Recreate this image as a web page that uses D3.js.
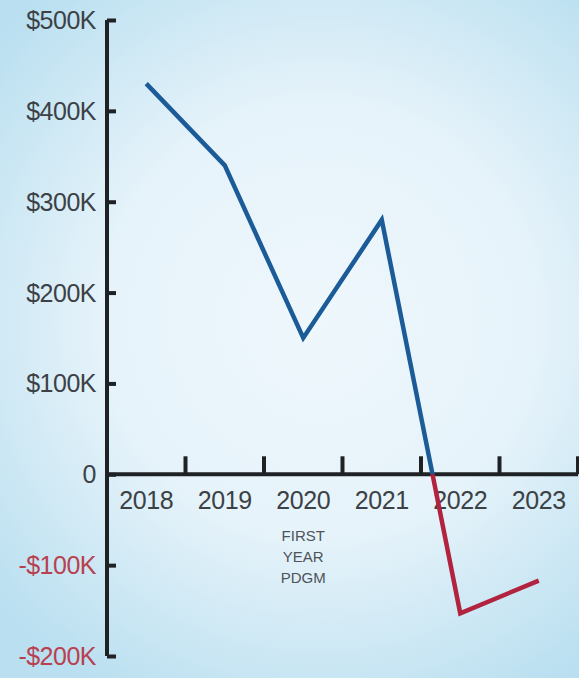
<!DOCTYPE html>
<html>
<head>
<meta charset="utf-8">
<script src="https://cdn.jsdelivr.net/npm/d3@7"></script>
<style>
  html, body { margin: 0; padding: 0; background: #e6f3fa; }
  svg { display: block; font-family: "Liberation Sans", Arial, sans-serif; }
</style>
</head>
<body>
<svg id="chart" width="579" height="678"></svg>
<script>
const years = ["2018", "2019", "2020", "2021", "2022", "2023"];
const values = [430, 340, 150, 280, -153, -117]; // thousands of dollars
const yTicks = [500, 400, 300, 200, 100, 0, -100, -200];
const yTickLabels = ["$500K", "$400K", "$300K", "$200K", "$100K", "0", "-$100K", "-$200K"];
const annotationYear = "2020";
const annotationLines = ["FIRST", "YEAR", "PDGM"];

const W = 579, H = 678;
const svg = d3.select("#chart");

// background
const defs = svg.append("defs");
const rg = defs.append("radialGradient").attr("id", "bg")
  .attr("gradientUnits", "userSpaceOnUse")
  .attr("cx", 320).attr("cy", 320).attr("r", 430);
rg.append("stop").attr("offset", 0).attr("stop-color", "#eef7fc");
rg.append("stop").attr("offset", 0.5).attr("stop-color", "#e6f3fa");
rg.append("stop").attr("offset", 1).attr("stop-color", "#b9dff0");
svg.append("rect").attr("width", W).attr("height", H).attr("fill", "url(#bg)");

const x = d3.scaleBand().domain(years).range([107, 578]).padding(0);
const y = d3.scaleLinear().domain([-200, 500]).range([656, 20]);
const y0 = y(0);

// clip paths for positive / negative segments
defs.append("clipPath").attr("id", "pos").append("rect")
  .attr("x", 0).attr("y", 0).attr("width", W).attr("height", y0);
defs.append("clipPath").attr("id", "neg").append("rect")
  .attr("x", 0).attr("y", y0).attr("width", W).attr("height", H - y0);

const axisColor = "#1f2225";

// Y axis
const yAxis = svg.append("g").attr("transform", "translate(107,0)")
  .call(d3.axisRight(y).tickValues(yTicks).tickSize(9).tickFormat(""));
yAxis.select(".domain").attr("stroke", axisColor).attr("stroke-width", 4).attr("d", `M0,${y(500)}V${y(-200)}`);
yAxis.selectAll(".tick line").attr("stroke", axisColor).attr("stroke-width", 4);

// Y labels
svg.append("g").selectAll("text").data(yTicks).join("text")
  .attr("x", 96).attr("y", d => y(d))
  .attr("dy", "0.36em")
  .attr("text-anchor", "end")
  .attr("font-size", 25)
  .attr("letter-spacing", "-0.5")
  .attr("fill", d => d < 0 ? "#b8404f" : "#3c4146")
  .text((d, i) => yTickLabels[i]);

// X axis
const xAxisG = svg.append("g").attr("transform", `translate(0,${y0})`);
xAxisG.append("line").attr("x1", 107).attr("x2", 578).attr("y1", 0).attr("y2", 0)
  .attr("stroke", axisColor).attr("stroke-width", 4);
xAxisG.selectAll("line.tick").data(years).join("line").attr("class", "tick")
  .attr("x1", d => x(d) + x.bandwidth()).attr("x2", d => x(d) + x.bandwidth())
  .attr("y1", 0).attr("y2", -18)
  .attr("stroke", axisColor).attr("stroke-width", 4);
xAxisG.selectAll("text").data(years).join("text")
  .attr("x", d => x(d) + x.bandwidth() / 2)
  .attr("y", 35)
  .attr("text-anchor", "middle")
  .attr("font-size", 25)
  .attr("letter-spacing", "-0.4")
  .attr("fill", "#3c4146")
  .text(d => d);

// annotation
svg.append("g").selectAll("text").data(annotationLines).join("text")
  .attr("x", x(annotationYear) + x.bandwidth() / 2)
  .attr("y", (d, i) => y0 + 67 + i * 21)
  .attr("text-anchor", "middle")
  .attr("font-size", 15)
  .attr("fill", "#4d5359")
  .text(d => d);

// line
const data = years.map((yr, i) => ({ yr, v: values[i] }));
const line = d3.line().x(d => x(d.yr) + x.bandwidth() / 2).y(d => y(d.v));
svg.append("path").datum(data).attr("d", line)
  .attr("fill", "none").attr("stroke", "#1b5b98").attr("stroke-width", 4.5)
  .attr("stroke-linejoin", "miter").attr("clip-path", "url(#pos)");
svg.append("path").datum(data).attr("d", line)
  .attr("fill", "none").attr("stroke", "#b1233f").attr("stroke-width", 4.5)
  .attr("stroke-linejoin", "miter").attr("clip-path", "url(#neg)");
</script>
</body>
</html>
